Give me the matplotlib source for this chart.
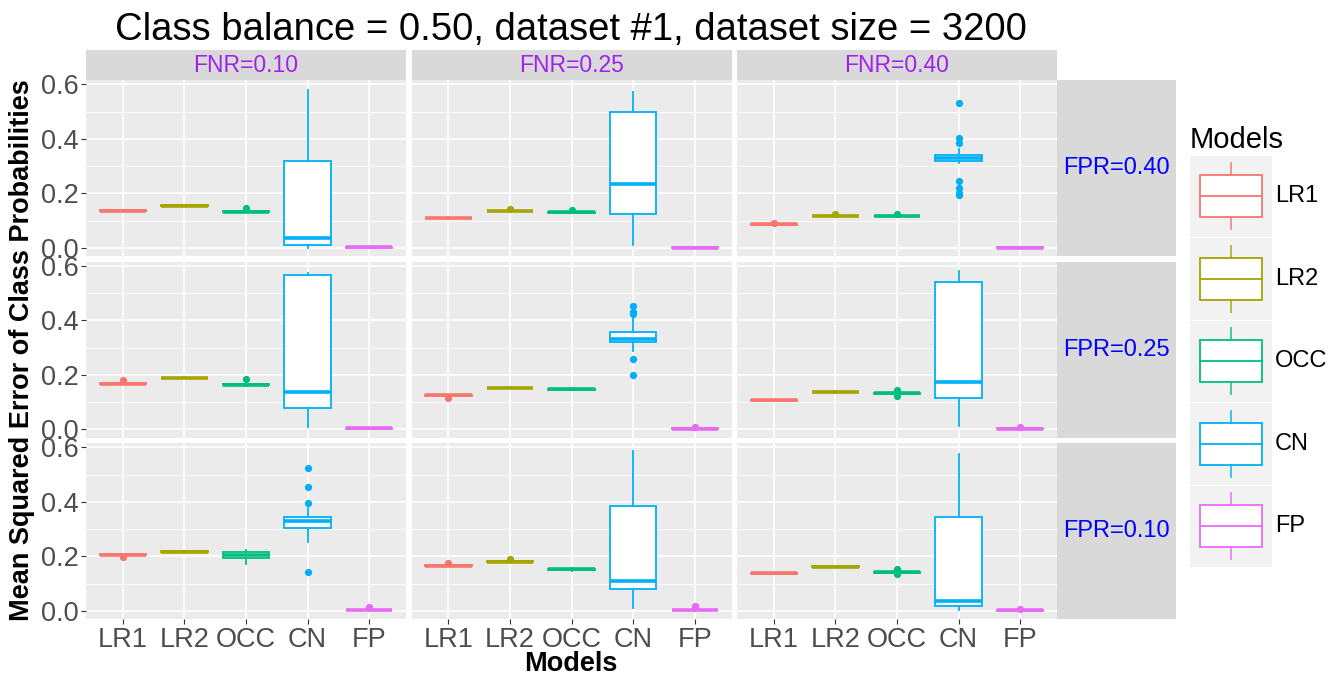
import matplotlib
matplotlib.use("Agg")
import matplotlib.pyplot as plt
from matplotlib.patches import Rectangle

plt.rcParams["font.family"] = ["Liberation Sans", "DejaVu Sans"]

MODELOS = ["LR1", "LR2", "OCC", "CN", "FP"]
COLORES = ["#F8766D", "#A3A500", "#00BF7D", "#00B0F6", "#E76BF3"]
FNR_LABELS = ["FNR=0.10", "FNR=0.25", "FNR=0.40"]
FPR_LABELS = ["FPR=0.40", "FPR=0.25", "FPR=0.10"]
TITULO = "Class balance = 0.50, dataset #1, dataset size = 3200"

# filas: FPR=0.40, 0.25, 0.10 / columnas: FNR=0.10, 0.25, 0.40 / modelos: LR1, LR2, OCC, CN, FP
mediana = [
    [[0.137, 0.155, 0.133, 0.035, 0.002], [0.110, 0.136, 0.130, 0.234, 0.001], [0.086, 0.116, 0.116, 0.330, 0.001]],
    [[0.168, 0.189, 0.163, 0.138, 0.004], [0.125, 0.152, 0.147, 0.331, 0.003], [0.106, 0.137, 0.132, 0.175, 0.003]],
    [[0.206, 0.217, 0.206, 0.330, 0.003], [0.166, 0.181, 0.152, 0.111, 0.003], [0.138, 0.162, 0.141, 0.035, 0.002]],
]
q1 = [
    [[0.136, 0.154, 0.132, 0.009, 0.001], [0.109, 0.135, 0.129, 0.125, 0.001], [0.085, 0.115, 0.115, 0.317, 0.000]],
    [[0.167, 0.188, 0.162, 0.078, 0.003], [0.124, 0.151, 0.146, 0.319, 0.002], [0.105, 0.136, 0.131, 0.116, 0.002]],
    [[0.205, 0.216, 0.195, 0.305, 0.002], [0.165, 0.180, 0.151, 0.081, 0.002], [0.137, 0.161, 0.140, 0.016, 0.001]],
]
q3 = [
    [[0.138, 0.156, 0.135, 0.318, 0.003], [0.111, 0.137, 0.131, 0.500, 0.002], [0.087, 0.117, 0.117, 0.341, 0.002]],
    [[0.170, 0.190, 0.165, 0.566, 0.005], [0.126, 0.153, 0.148, 0.358, 0.004], [0.107, 0.138, 0.133, 0.541, 0.004]],
    [[0.207, 0.218, 0.216, 0.343, 0.004], [0.167, 0.182, 0.153, 0.383, 0.004], [0.139, 0.163, 0.142, 0.344, 0.003]],
]
bigote_inf = [
    [[0.135, 0.153, 0.130, 0.000, 0.000], [0.108, 0.134, 0.128, 0.010, 0.000], [0.084, 0.114, 0.114, 0.312, 0.000]],
    [[0.165, 0.187, 0.158, 0.009, 0.002], [0.123, 0.150, 0.143, 0.286, 0.001], [0.104, 0.135, 0.129, 0.014, 0.001]],
    [[0.204, 0.215, 0.173, 0.254, 0.001], [0.164, 0.179, 0.147, 0.009, 0.001], [0.136, 0.160, 0.138, 0.003, 0.000]],
]
bigote_sup = [
    [[0.139, 0.157, 0.137, 0.578, 0.004], [0.112, 0.138, 0.132, 0.571, 0.003], [0.088, 0.118, 0.118, 0.362, 0.002]],
    [[0.172, 0.191, 0.168, 0.575, 0.006], [0.127, 0.154, 0.150, 0.410, 0.005], [0.108, 0.139, 0.136, 0.581, 0.005]],
    [[0.208, 0.219, 0.222, 0.379, 0.006], [0.168, 0.183, 0.157, 0.586, 0.006], [0.140, 0.164, 0.144, 0.574, 0.004]],
]
atipicos = [
    [[[], [], [0.148], [], []],
     [[], [0.143], [0.138], [], []],
     [[0.091], [0.125], [0.125], [0.531, 0.403, 0.385, 0.244, 0.218, 0.200, 0.193], []]],
    [[[0.180], [], [0.183], [], []],
     [[0.116], [], [], [0.451, 0.431, 0.425, 0.257, 0.200], [0.009]],
     [[], [], [0.145, 0.140, 0.122], [], [0.007]]],
    [[[0.196], [], [], [0.525, 0.456, 0.396, 0.141], [0.015]],
     [[0.177], [0.191], [], [], [0.013, 0.017]],
     [[], [], [0.155, 0.150, 0.135], [], [0.007]]],
]

W, H = 1330, 675


def caja(x0, y0, x1, y1):
    """Convierte pixeles (arriba-izquierda) a coordenadas de figura."""
    return [x0 / W, 1 - y1 / H, (x1 - x0) / W, (y1 - y0) / H]


fig = plt.figure(figsize=(W / 100, H / 100), dpi=100)

COL_X = [(86, 406), (411.5, 731.5), (737, 1057)]
FIL_Y = [(80, 256), (261.5, 437.5), (443, 619)]

for i in range(3):
    for j in range(3):
        ax = fig.add_axes(caja(COL_X[j][0], FIL_Y[i][0], COL_X[j][1], FIL_Y[i][1]))
        ax.set_facecolor("#EBEBEB")
        for s in ax.spines.values():
            s.set_visible(False)

        stats = []
        for k in range(5):
            stats.append({
                "med": mediana[i][j][k], "q1": q1[i][j][k], "q3": q3[i][j][k],
                "whislo": bigote_inf[i][j][k], "whishi": bigote_sup[i][j][k],
                "fliers": atipicos[i][j][k],
            })
        partes = ax.bxp(stats, positions=range(1, 6), widths=0.75, patch_artist=True,
                        showcaps=False, manage_ticks=False)
        for k, c in enumerate(COLORES):
            partes["boxes"][k].set(facecolor="white", edgecolor=c, linewidth=1.3)
            partes["medians"][k].set(color=c, linewidth=2.6, solid_capstyle="butt")
            for w in partes["whiskers"][2 * k:2 * k + 2]:
                w.set(color=c, linewidth=1.3)
            partes["fliers"][k].set(marker="o", markerfacecolor=c, markeredgecolor=c,
                                    markersize=4.2, linestyle="none")

        ax.set_xlim(0.4, 5.6)
        ax.set_ylim(-0.03, 0.616)
        ax.set_yticks([0.0, 0.2, 0.4, 0.6])
        ax.set_yticks([0.1, 0.3, 0.5], minor=True)
        ax.set_xticks(range(1, 6))
        ax.grid(True, which="major", color="white", linewidth=1.2)
        ax.grid(True, which="minor", axis="y", color="white", linewidth=0.6)
        ax.set_axisbelow(True)
        ax.tick_params(which="minor", length=0)
        ax.tick_params(which="major", length=3.5, width=0.8, color="#333333",
                       labelcolor="#4D4D4D", labelsize=19.5, pad=2)
        if j == 0:
            ax.set_yticklabels(["0.0", "0.2", "0.4", "0.6"])
        else:
            ax.tick_params(axis="y", length=0, labelleft=False)
        if i == 2:
            ax.set_xticklabels(MODELOS)
        else:
            ax.tick_params(axis="x", length=0, labelbottom=False)

# tiras superiores (FNR)
for j in range(3):
    sax = fig.add_axes(caja(COL_X[j][0], 50, COL_X[j][1], 80))
    sax.set_facecolor("#D9D9D9")
    sax.set_xticks([])
    sax.set_yticks([])
    for s in sax.spines.values():
        s.set_visible(False)
    sax.text(0.5, 0.5, FNR_LABELS[j], color="#A020F0", fontsize=16.5,
             ha="center", va="center", transform=sax.transAxes)

# tiras derechas (FPR)
for i in range(3):
    sax = fig.add_axes(caja(1057, FIL_Y[i][0], 1176, FIL_Y[i][1]))
    sax.set_facecolor("#D9D9D9")
    sax.set_xticks([])
    sax.set_yticks([])
    for s in sax.spines.values():
        s.set_visible(False)
    sax.text(0.5, 0.5, FPR_LABELS[i], color="#0000FF", fontsize=17,
             ha="center", va="center", transform=sax.transAxes)

# leyenda dibujada a mano
lax = fig.add_axes(caja(1190, 155, 1272, 568))
lax.set_xlim(0, 82)
lax.set_ylim(413, 0)
lax.axis("off")
for k, c in enumerate(COLORES):
    y0 = k * 82.6
    lax.add_patch(Rectangle((0, y0 + 0.5), 82, 81.5, facecolor="#F2F2F2", edgecolor="none"))
    lax.plot([41, 41], [y0 + 8, y0 + 20], color=c, linewidth=1.3, alpha=0.8)
    lax.plot([41, 41], [y0 + 62, y0 + 74], color=c, linewidth=1.3, alpha=0.8)
    lax.add_patch(Rectangle((10, y0 + 20), 62, 42, facecolor="white", edgecolor=c,
                            linewidth=1.3))
    lax.plot([10, 72], [y0 + 41, y0 + 41], color=c, linewidth=1.3)
    fig.text(1275 / W, 1 - (155 + y0 + 41) / H, MODELOS[k], fontsize=17,
             ha="left", va="center")
fig.text(1190 / W, 1 - 140 / H, "Models", fontsize=21, ha="left", va="center")

fig.text(571 / W, 1 - 30 / H, TITULO, fontsize=27.5, ha="center", va="center")
fig.text(571 / W, 1 - 664 / H, "Models", fontsize=19.5, fontweight="bold",
         ha="center", va="center")
fig.text(22 / W, 1 - 350 / H, "Mean Squared Error of Class Probabilities", fontsize=19.5,
         fontweight="bold", rotation=90, ha="center", va="center")

fig.savefig("out.png", dpi=100)
